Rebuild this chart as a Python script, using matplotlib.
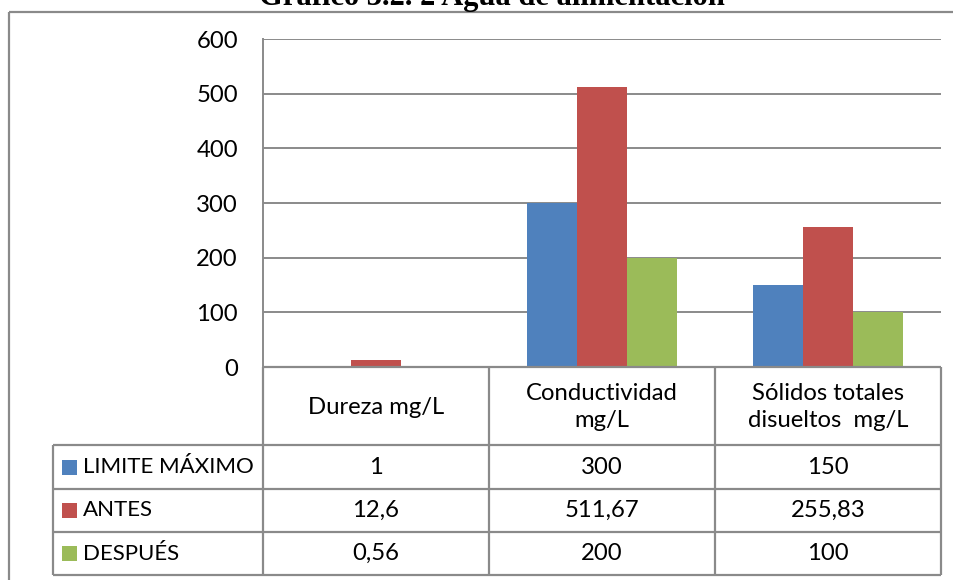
import matplotlib
matplotlib.use("Agg")
import matplotlib.pyplot as plt
from matplotlib.patches import Rectangle

# --- data -------------------------------------------------------------
categories = ["Dureza mg/L", "Conductividad\nmg/L", "Sólidos totales\ndisueltos  mg/L"]
series_names = ["LIMITE MÁXIMO", "ANTES", "DESPUÉS"]
limite_maximo = [1, 300, 150]
antes = [12.6, 511.67, 255.83]
despues = [0.56, 200, 100]
y_ticks = [0, 100, 200, 300, 400, 500, 600]
title = "Gráfico 3.2. 2 Agua de alimentación"

series = [limite_maximo, antes, despues]
colors = ["#4F81BD", "#C0504D", "#9BBB59"]
line_gray = "#8A8A8A"
FONT = "Lato"
FS = 17.2
FS_KEY = 16.0

W, H = 954, 580
fig = plt.figure(figsize=(W / 100, H / 100), dpi=100)


def fx(px):
    return px / W


def fy(py):
    return 1 - py / H


# plot area in pixel terms
x0, x1, ytop, ybot = 263, 941, 39, 367
ax = fig.add_axes([fx(x0), fy(ybot), fx(x1 - x0), (ybot - ytop) / H])

n = len(categories)
bw = 0.221
for i, (vals, c) in enumerate(zip(series, colors)):
    xs = [k + (i - 1) * bw for k in range(n)]
    ax.bar(xs, vals, width=bw, color=c, edgecolor="none", zorder=3)

ax.set_xlim(-0.5, n - 0.5)
ax.set_ylim(y_ticks[0], y_ticks[-1])
ax.set_yticks(y_ticks)
ax.set_yticklabels([str(t) for t in y_ticks], fontsize=FS, family=FONT)
ax.set_xticks([])
ax.tick_params(axis="y", length=0, pad=18)
ax.yaxis.grid(True, color=line_gray, linewidth=1.4, zorder=0)
for s in ["top", "right", "bottom"]:
    ax.spines[s].set_visible(False)
ax.spines["left"].set_color(line_gray)
ax.spines["left"].set_linewidth(1.4)

# --- overlay for data table, border and title ------------------------
ov = fig.add_axes([0, 0, 1, 1])
ov.set_xlim(0, W)
ov.set_ylim(H, 0)
ov.axis("off")
ov.patch.set_visible(False)

lw = 1.6
col_edges = [x0 + k * (x1 - x0) / n for k in range(n + 1)]
label_left = 53
row_edges = [445, 489, 532, 575]

# outer frame
ov.plot([9, W], [11.5, 11.5], color=line_gray, lw=lw, solid_capstyle="butt")
ov.plot([9, 9], [11.5, H], color=line_gray, lw=lw, solid_capstyle="butt")

# header row lines
ov.plot([x0, x1], [ybot, ybot], color=line_gray, lw=lw, solid_capstyle="butt")
for xe in col_edges:
    ov.plot([xe, xe], [ybot, row_edges[-1]], color=line_gray, lw=lw, solid_capstyle="butt")
for ye in row_edges:
    ov.plot([label_left, x1], [ye, ye], color=line_gray, lw=lw, solid_capstyle="butt")
ov.plot([label_left, label_left], [row_edges[0], row_edges[-1]], color=line_gray, lw=lw,
        solid_capstyle="butt")

# category headers
for k, cat in enumerate(categories):
    cx = (col_edges[k] + col_edges[k + 1]) / 2
    ov.text(cx, (ybot + row_edges[0]) / 2 + 1, cat, ha="center", va="center",
            fontsize=FS, family=FONT, linespacing=1.35)


def fmt(v):
    return f"{v:g}".replace(".", ",")


# value rows with legend keys
for r, (name, vals, c) in enumerate(zip(series_names, series, colors)):
    ya, yb = row_edges[r], row_edges[r + 1]
    cy = (ya + yb) / 2
    ov.add_patch(Rectangle((62, cy - 7.5), 15, 15, facecolor=c, edgecolor="none"))
    ov.text(83, cy, name, ha="left", va="center", fontsize=FS_KEY, family=FONT)
    for k, v in enumerate(vals):
        cx = (col_edges[k] + col_edges[k + 1]) / 2
        ov.text(cx, cy, fmt(v), ha="center", va="center", fontsize=FS, family=FONT)

# title, partly above the frame
ov.text(492, 5, title, ha="center", va="baseline", fontsize=22,
        family="Liberation Serif", fontweight="bold")

fig.savefig("out.png", dpi=100)
